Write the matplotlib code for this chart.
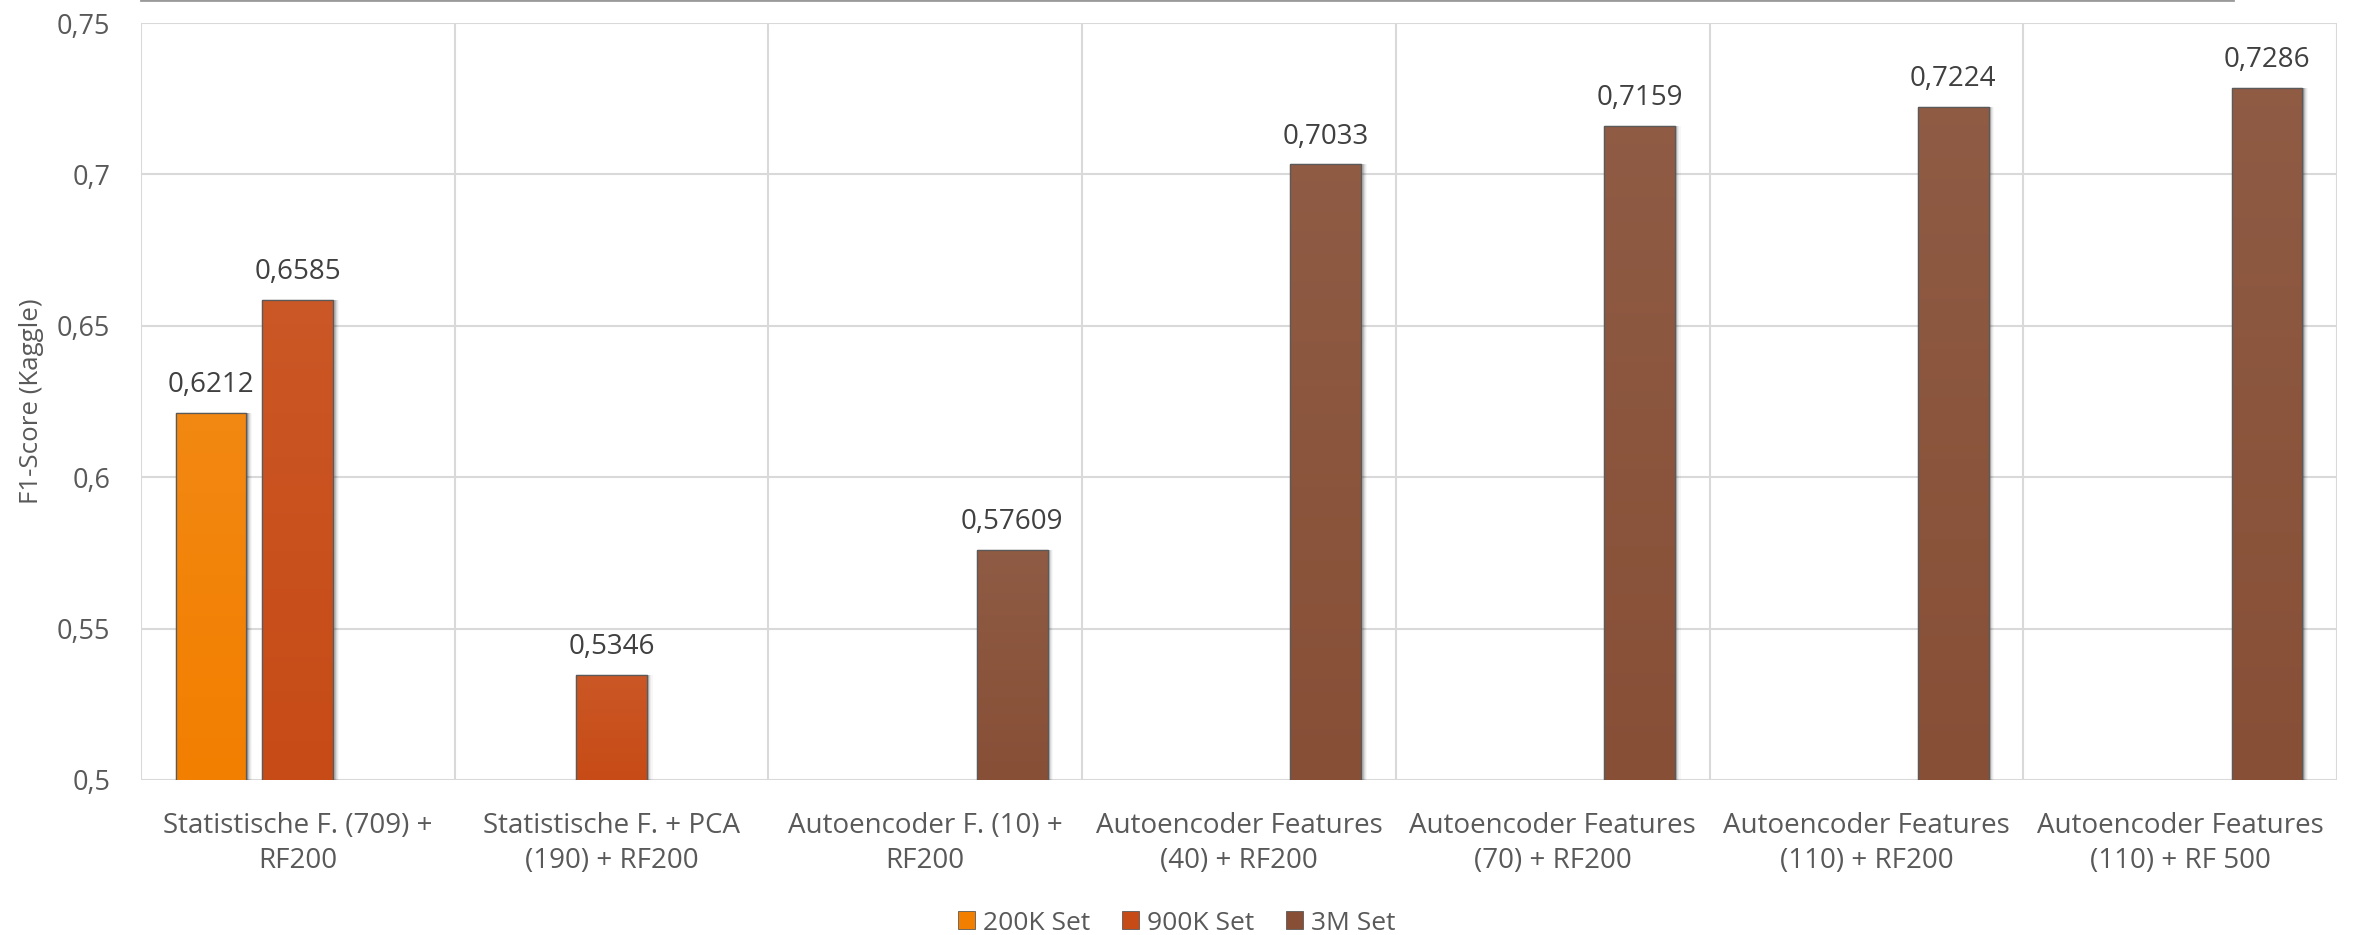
import numpy as np
import matplotlib
matplotlib.use("Agg")
import matplotlib.pyplot as plt
from matplotlib.colors import to_rgb, LinearSegmentedColormap
from matplotlib.patches import Patch
from matplotlib.lines import Line2D

# ---- data ----
categories = [
    "Statistische F. (709) +\nRF200",
    "Statistische F. + PCA\n(190) + RF200",
    "Autoencoder F. (10) +\nRF200",
    "Autoencoder Features\n(40) + RF200",
    "Autoencoder Features\n(70) + RF200",
    "Autoencoder Features\n(110) + RF200",
    "Autoencoder Features\n(110) + RF 500",
]
series_names = ["200K Set", "900K Set", "3M Set"]
set_200k = [0.6212, None, None, None, None, None, None]
set_900k = [0.6585, 0.5346, None, None, None, None, None]
set_3m = [None, None, 0.57609, 0.7033, 0.7159, 0.7224, 0.7286]
series_colors = ["#F27F00", "#C74B16", "#874F36"]
y_ticks = [0.5, 0.55, 0.6, 0.65, 0.7, 0.75]

TEXT = "#595959"
LABEL = "#404040"
GRID = "#D9D9D9"
FONT = ["Open Sans", "DejaVu Sans"]

fig = plt.figure(figsize=(23.54, 9.35), dpi=100)
ax = fig.add_axes([141 / 2354, 1 - 780 / 935, (2337 - 141) / 2354, (780 - 23) / 935])

bar_w = 0.226
offsets = [-0.277, 0.0, 0.277]
x = np.arange(len(categories))
y0 = y_ticks[0]


def draw_series(values, offset, color):
    xs = [xi + offset for xi, v in zip(x, values) if v is not None]
    vs = [v for v in values if v is not None]
    hs = [v - y0 for v in vs]
    # soft drop shadow on the right side
    for k, a in zip(range(1, 6), [0.16, 0.12, 0.08, 0.05, 0.03]):
        ax.bar(np.array(xs) + k * 0.0035, hs, width=bar_w, bottom=y0,
               color="black", alpha=a, linewidth=0, zorder=2)
    bars = ax.bar(xs, hs, width=bar_w, bottom=y0, color=color,
                  edgecolor="#5A5A5A", linewidth=0.9, zorder=3)
    base = np.array(to_rgb(color))
    top = base + (1 - base) * 0.07
    cmap = LinearSegmentedColormap.from_list("g", [base, top])
    grad = np.linspace(0, 1, 256).reshape(-1, 1)
    for b in bars:
        bx, by, w, h = b.get_x(), b.get_y(), b.get_width(), b.get_height()
        im = ax.imshow(grad, extent=[bx, bx + w, by, by + h], origin="lower",
                       aspect="auto", cmap=cmap, zorder=3.1, interpolation="bicubic")
        im.set_clip_path(b)
        ax.add_line(Line2D([bx, bx, bx + w, bx + w], [by, by + h, by + h, by],
                           color="#5A5A5A", linewidth=0.9, zorder=3.2))
    for xi, v in zip(xs, vs):
        ax.annotate(str(v).replace(".", ","), xy=(xi, v), xytext=(0, 10),
                    textcoords="offset points", ha="center", va="bottom",
                    fontsize=20, color=LABEL, family=FONT, zorder=4)


for vals, off, col in zip([set_200k, set_900k, set_3m], offsets, series_colors):
    draw_series(vals, off, col)

ax.set_xlim(-0.5, len(categories) - 0.5)
ax.set_ylim(y_ticks[0], y_ticks[-1])
ax.set_yticks(y_ticks)
ax.set_yticklabels([f"{t:g}".replace(".", ",") for t in y_ticks],
                   fontsize=19.5, color=TEXT, family=FONT)
ax.set_xticks(x)
ax.set_xticklabels(categories, fontsize=20, color=TEXT, family=FONT,
                   linespacing=1.35)
ax.tick_params(axis="y", length=0, pad=22)
ax.tick_params(axis="x", length=0, pad=23)

# grid: horizontal at each tick, vertical at category boundaries
for t in y_ticks:
    ax.axhline(t, color=GRID, linewidth=1.5, zorder=1)
for b in np.arange(-0.5, len(categories), 1.0):
    ax.axvline(b, color=GRID, linewidth=1.5, zorder=1)
for s in ax.spines.values():
    s.set_visible(False)

ax.set_ylabel("F1-Score (Kaggle)", fontsize=18.6, color=TEXT, family=FONT,
              labelpad=9)

handles = [Patch(facecolor=c, edgecolor="#5A5A5A", linewidth=0.6) for c in series_colors]
fig.legend(handles, series_names, loc="center",
           bbox_to_anchor=(0.5, 1 - 923 / 935), ncol=3, frameon=False,
           prop={"family": FONT, "size": 19}, labelcolor=TEXT,
           handlelength=0.65, handleheight=0.65, handletextpad=0.3,
           columnspacing=1.2)

# thin rule along the top edge
fig.add_artist(Line2D([141 / 2354, 2233 / 2354], [0.9995, 0.9995],
                      transform=fig.transFigure, color="#9A9A9A", linewidth=2))

fig.savefig("out.png", dpi=100, facecolor="white")
